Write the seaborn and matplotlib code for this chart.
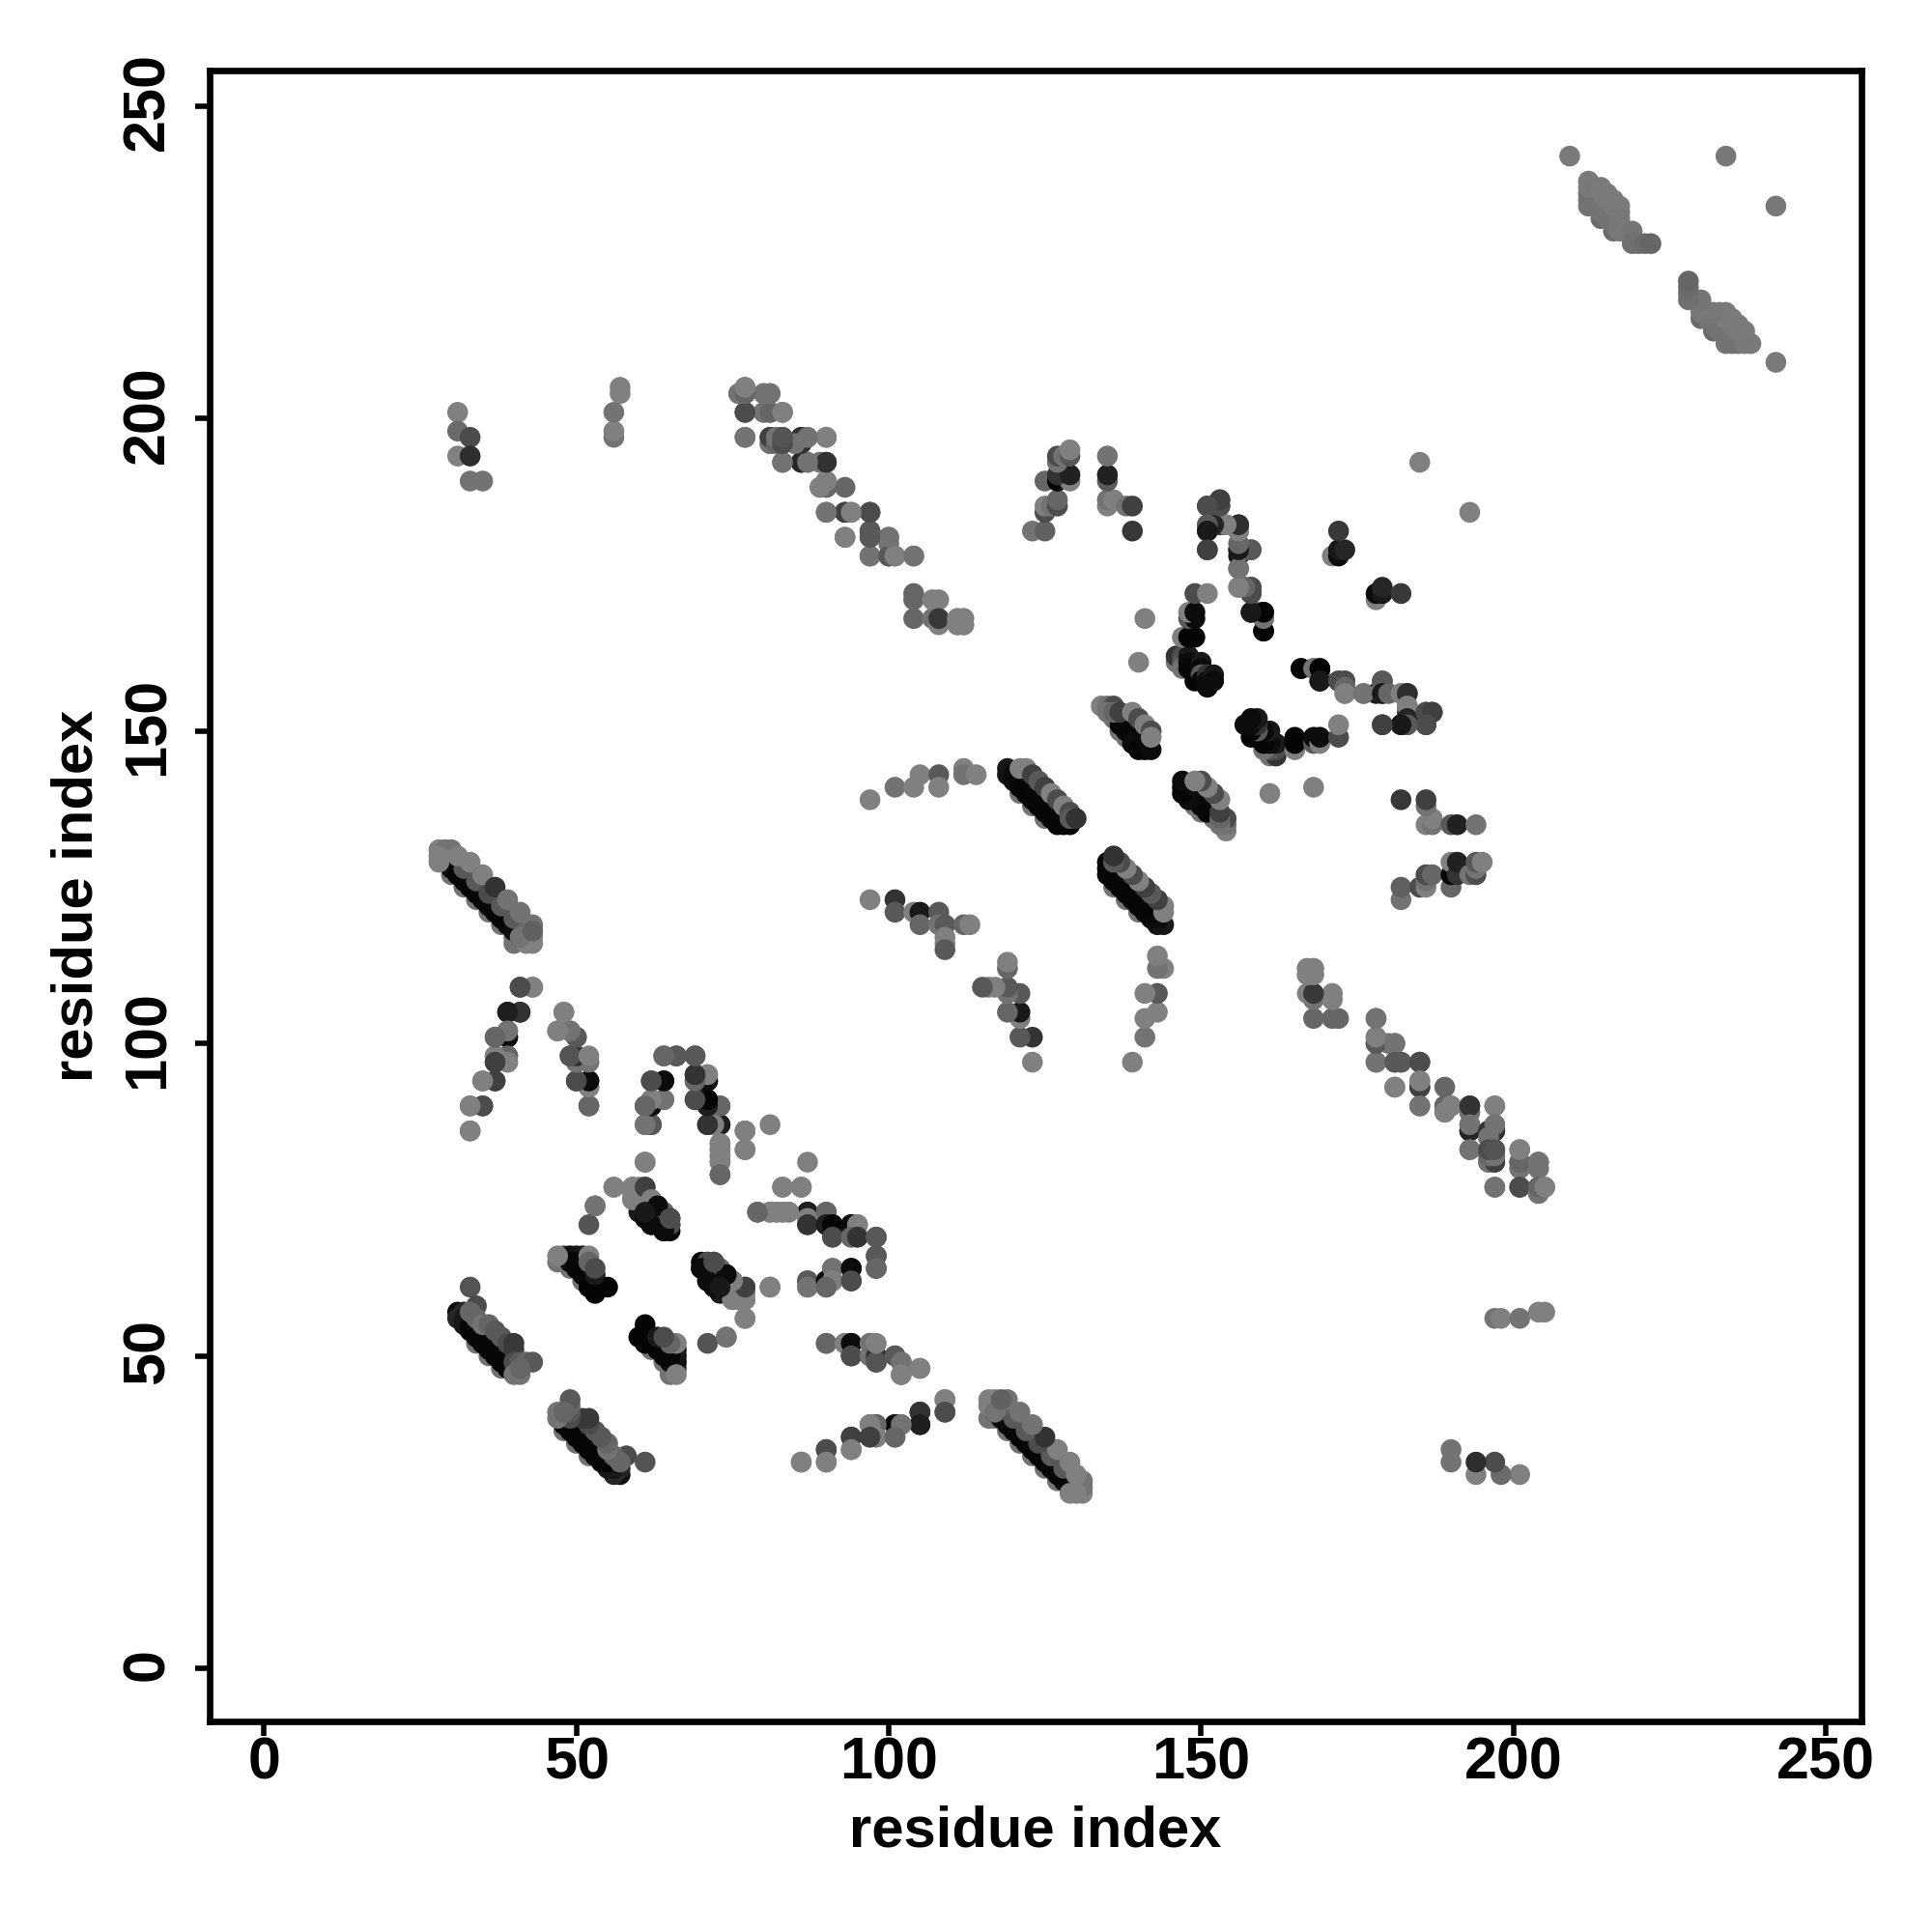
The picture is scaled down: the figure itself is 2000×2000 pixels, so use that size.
import matplotlib
matplotlib.use("Agg")
import matplotlib.pyplot as plt
from matplotlib.transforms import ScaledTranslation
import pandas as pd
import seaborn as sns

# contacts (residue i, residue j, grey level); the map is symmetric
band_a = [(30,127,.45),(32,125,.45),(34,123,.45),(36,121,.45),(38,119,.45),(40,117,.45),(40,116,.45),
 (29,129,.15),(30,128,.05),(31,127,.03),(32,126,.03),(33,125,.03),(34,124,.03),(35,123,.03),(36,122,.03),(37,121,.03),(38,120,.03),(39,119,.03),(40,118,.05),(41,117,.15),
 (32,128,.35),(34,126,.35),(36,124,.3),(38,122,.35),(40,120,.35),(42,118,.4),
 (28,131,.5),(29,131,.45),(30,131,.45),(28,130,.5),(28,129,.5),(31,130,.5),(33,129,.5),(35,127,.5),(37,125,.2),(39,123,.45),(41,121,.45),
 (43,119,.45),(42,116,.5),(43,116,.5),(43,117,.5),(41,117,.45),(43,118,.38)]
band_c = [(34,52,.45),(36,50,.45),(38,48,.45),
 (31,57,.06),(32,57,.15),(31,56,.15),(32,56,.1),(32,55,.1),(33,55,.03),(33,54,.03),(34,54,.03),(34,53,.03),(35,53,.03),(35,52,.03),(36,52,.03),(36,51,.03),(37,51,.03),(37,50,.03),(38,50,.03),(38,49,.03),(39,49,.03),(39,48,.03),(40,48,.03),
 (33,61,.33),(34,58,.3),(33,57,.4),(34,56,.4),(35,55,.45),(36,55,.4),(37,54,.35),(38,53,.35),(39,52,.3),(40,52,.22),(40,51,.22),(40,49,.3),(41,49,.35),(42,49,.4),(43,49,.35),(40,47,.45),(41,47,.45),(41,48,.4)]
band_e = [(47,65,.45),(49,64,.45),(51,62,.45),
 (48,66,.25),(49,66,.05),(50,66,.08),(51,66,.1),(49,65,.05),(50,65,.03),(51,65,.03),(50,64,.03),(51,64,.03),(52,64,.03),(51,63,.03),(52,63,.03),(52,62,.03),(53,62,.03),(52,61,.02),(53,61,.02),(53,60,.02),(54,61,.02),(55,61,.02),
 (47,66,.5),(52,66,.5),(52,65,.4),(53,63,.1),(53,64,.3)]
band_f = [(60,74,.1),(60,73,.1),(61,75,.1),(61,74,.05),(61,73,.03),(62,74,.03),(62,73,.03),(61,72,.05),(62,72,.03),(63,73,.03),(62,71,.02),(63,72,.03),(63,71,.05),(64,72,.03),(64,71,.03),(64,70,.02),(65,70,.03),
 (59,77,.5),(60,77,.5),(59,76,.5),(60,76,.45),(61,77,.3),(61,76,.3),(59,75,.5),(60,75,.45),(62,75,.5),(63,74,.02),(64,73,.4),(65,72,.25),(65,71,.25)]
arm_b = [(41,109,.33),(43,109,.5),(39,105,.13),(41,105,.22),(48,105,.5),(47,102,.5),(49,102,.45),(50,101,.3),(37,101,.35),(39,101,.05),(39,102,.45),
 (37,97,.25),(39,97,.5),(37,98,.5),(39,98,.4),(49,98,.35),(50,97,.35),(50,98,.2),(52,97,.48),(35,94,.5),(37,94,.25),(50,94,.3),(52,93,.5),(52,94,.05),(35,90,.3),(33,90,.5),(52,90,.4),(33,86,.5)]
arm_g = [(64,98,.35),(66,98,.35),(69,98,.35),(62,94,.3),(64,94,.05),(69,94,.38),(69,95,.2),(71,94,.05),(71,95,.5),(61,90,.4),(62,90,.08),(62,91,.5),(64,91,.45),(69,91,.3),(70,91,.15),(71,90,.08),(71,91,.02),(73,90,.4),
 (61,87,.5),(62,87,.32),(71,87,.22),(72,87,.5),(73,87,.12),(77,86,.5),(81,87,.5),(77,83,.5),(73,79,.4),(73,81,.5),(73,82,.52),(73,83,.54),(73,84,.55),(61,81,.48),(56,77,.5),(53,74,.5),(52,71,.33)]
left_top = [(31,201,.5),(31,198,.42),(33,197,.3),(31,194,.5),(33,194,.18),(33,190,.45),(35,190,.45),(56,197,.45),(56,198,.5),(56,201,.45),(57,204,.5),(57,205,.5)]
strand_k = [(76,204,.5),(77,204,.35),(77,205,.5),(80,204,.45),(81,204,.45),(77,201,.3),(80,201,.5),(81,201,.4),(83,201,.5),(77,197,.45),(81,196,.45),(81,197,.38),(82,197,.45),(83,196,.3),(83,197,.3),(85,196,.45),(86,196,.1),(86,197,.15),(87,197,.45),(90,197,.5),
 (83,193,.45),(86,193,.12),(87,193,.45),(89,193,.45),(90,193,.2),(90,189,.38),(89,189,.5),(90,190,.5),(93,189,.4),(90,185,.45),(93,185,.25),(94,185,.5),(97,185,.3),(93,181,.5),(97,181,.38),(97,182,.35),(100,181,.45),
 (97,178,.45),(100,178,.35),(101,178,.45),(100,180,.45),(104,178,.48),(104,172,.4),(104,171,.4),(104,168,.4),(107,168,.45),(107,171,.5),(108,171,.5),(108,167,.5),(108,168,.22),(111,167,.5),(111,168,.5),(112,167,.5),(112,168,.5)]
lower_m = [(52,90,.4),(52,93,.5),(52,94,.05),(50,94,.3),(52,97,.45),(50,97,.45),(50,98,.2),(49,98,.33),(52,98,.5),(50,101,.35),(49,102,.45),(47,102,.5),(48,105,.5),(43,109,.5),(41,109,.3),(41,105,.2),(39,105,.12),
 (39,101,.05),(39,102,.45),(39,98,.4),(39,97,.5),(37,98,.5),(37,97,.25),(37,101,.4),(37,94,.25),(35,94,.5),(35,90,.3),(33,90,.5),(33,86,.5)]
mid_n = [(73,87,.12),(72,87,.5),(71,87,.2),(73,90,.4),(71,90,.12),(71,91,.02),(69,91,.3),(71,94,.05),(71,95,.5),(69,94,.4),(69,95,.2),(69,98,.35),(66,98,.35),(64,98,.4),(61,81,.5),(62,87,.35),(61,87,.45),
 (62,90,.05),(64,91,.45),(62,91,.5),(61,90,.4),(64,94,.05),(62,94,.3),(73,81,.5),(73,82,.5),(73,83,.5),(73,84,.5),(73,79,.4),(77,83,.5),(77,86,.5),(56,77,.5),(59,77,.5),(59,75,.5)]
mid_o = [(61,77,.25),(62,75,.5),(63,74,.05),(62,71,.05),(61,73,.1),(65,71,.3),(64,70,.05),(65,72,.3),(53,74,.45)]
band_h = [(121,140,.45),(123,138,.45),(125,136,.45),
 (119,144,.1),(119,143,.08),(120,143,.05),(120,142,.05),(121,142,.03),(121,141,.03),(122,141,.02),(122,140,.02),(123,140,.03),(123,139,.03),(124,139,.03),(124,138,.03),(125,138,.03),(125,137,.03),(126,137,.03),(126,136,.03),(127,136,.03),(127,135,.03),(128,135,.03),(129,135,.03),(128,136,.03),
 (121,144,.5),(122,144,.5),(123,143,.25),(124,142,.35),(125,141,.25),(126,140,.5),(127,139,.3),(128,138,.5),(129,137,.3),(129,136,.35),(130,136,.2)]
band_j = [(136,152,.45),(137,150,.45),(138,149,.45),
 (137,151,.03),(138,151,.03),(138,150,.03),(139,150,.03),(139,149,.03),(140,149,.03),(140,148,.03),(141,148,.03),(139,148,.05),(140,147,.03),(141,147,.03),(142,147,.05),(141,149,.05),
 (134,154,.5),(135,154,.45),(136,154,.3),(135,153,.45),(136,153,.4),(137,153,.25),(139,153,.5),(140,152,.3),(141,151,.5),(142,150,.3),(142,149,.5)]
band_k = [(146,161,.45),(146,162,.2),(147,162,.3),(147,161,.35),(147,160,.45),(148,162,.1),(148,161,.05),(148,160,.03),(149,160,.03),(149,159,.03),(149,158,.02),(150,161,.1),(150,160,.05),(150,159,.35),(150,158,.03),(151,159,.2),(151,158,.05),(151,157,.05),(152,159,.1),(152,158,.05),
 (147,165,.5),(148,165,.02),(149,165,.02),(148,168,.35),(149,168,.05),(148,169,.5),(149,169,.05),(149,172,.3),(151,172,.5),(140,161,.5),(141,168,.5)]
band_p = [(123,182,.45),(125,182,.38),(125,185,.3),(125,186,.5),(126,186,.45),(127,186,.3),(127,187,.4),(125,190,.4),(127,190,.02),(129,190,.5),(127,191,.2),(129,191,.13),(127,193,.45),(127,194,.3),(128,194,.45),(129,194,.35),(129,195,.5),
 (135,186,.5),(135,187,.45),(136,187,.5),(135,190,.35),(135,191,.13),(135,194,.45),(138,186,.45),(139,186,.25),(139,182,.22)]
band_q = [(151,179,.25),(151,182,.15),(151,183,.4),(151,186,.3),(153,186,.25),(153,187,.3),(153,183,.2),(152,183,.15),(154,183,.5),(156,183,.2),(156,182,.45),(156,178,.1),(156,179,.3),(157,179,.45),(158,179,.35),(156,176,.5),(156,173,.5),(157,173,.45),(158,173,.3),(158,172,.25),
 (158,169,.1),(159,169,.4),(160,169,.02),(160,168,.4),(160,166,.02),(171,178,.5),(172,178,.05),(172,179,.1),(173,179,.15),(172,182,.22),(185,193,.5)]
band_x = [(112,167,.5),(112,168,.5),(111,167,.5),(111,168,.5)]
strand_r = [(97,123,.5),(101,123,.2),(101,121,.35),(104,121,.5),(105,121,.1),(108,121,.35),(105,119,.4),(108,119,.45),(109,119,.35),(112,119,.4),(113,119,.5),(109,117,.5),(109,116,.5),(109,115,.35),
 (97,139,.5),(101,141,.45),(104,141,.5),(105,143,.5),(108,143,.35),(108,141,.5),(112,144,.5),(112,143,.45),(114,143,.5)]
strand_s = [(209,242,.48),(234,242,.47),(212,235,.45),(212,234,.45),(214,232,.42),(216,230,.42),(212,236,.44),(213,234,.45),(214,233,.45),(215,232,.45),(216,231,.45),
 (212,238,.48),(212,237,.48),(213,237,.47),(214,237,.48),(214,236,.48),(215,236,.48),(215,235,.48),(216,235,.48),(216,234,.48),(217,234,.48),(217,233,.48),(217,232,.47),(217,231,.47),(217,230,.47),(219,230,.46),(219,228,.44),(220,228,.44),(221,228,.42),(222,228,.4)]
strand_t = [(97,178,.45),(100,178,.35),(101,178,.5),(104,178,.45),(100,181,.45),(97,181,.35),(97,182,.35),(97,185,.3),(93,181,.5),(93,185,.25),(94,185,.5),(90,185,.45),(90,189,.4),(89,189,.5),(90,190,.5),(89,193,.45),(90,193,.2),(86,193,.15),(87,193,.45),(83,193,.45),
 (90,197,.5),(86,196,.2),(86,197,.2),(87,197,.45),(85,196,.45),(81,196,.45),(81,197,.25),(82,196,.4),(82,197,.45),(83,196,.3),(83,197,.33),(80,201,.45),(81,201,.4),(83,201,.5),(80,204,.45),(81,204,.45),(77,197,.45),(77,201,.3),(76,204,.45),(77,204,.4),(77,205,.5)]
strand_u = [(160,166,.02),(160,168,.45),(160,169,.02),(158,169,.1),(158,172,.3),(158,173,.3),(157,173,.4),(156,173,.5),(156,176,.45),(158,179,.35),(156,179,.1),(156,180,.4),(156,182,.5),(156,183,.18),(154,183,.5),(152,183,.15),(153,186,.3),(153,187,.25),(151,186,.3),(151,183,.35),(151,182,.1),(151,179,.25)]
tick_values = [0, 50, 100, 150, 200, 250]
axis_label = "residue index"

groups = [band_a, band_c, band_e, band_f, arm_b, arm_g, left_top, strand_k, lower_m,
          mid_n, mid_o, band_h, band_j, band_k, band_p, band_q, band_x, strand_r, strand_s, strand_t, strand_u]
rows = [c for g in groups for c in g]
df = pd.DataFrame(rows, columns=["i", "j", "shade"])
both = pd.concat([df.rename(columns={"i": "x", "j": "y"}),
                  df.rename(columns={"j": "x", "i": "y"})]).sort_index(kind="stable")

sns.set_theme(style="ticks")
plt.rcParams["font.family"] = ["Liberation Sans", "DejaVu Sans"]
plt.rcParams["font.weight"] = "bold"

fig = plt.figure(figsize=(10, 10), dpi=200, facecolor="white")
ax = fig.add_axes([0.1085, 0.109, 0.855, 0.8545])
sns.scatterplot(data=both, x="x", y="y", hue="shade", hue_norm=(0, 1), palette="gray",
                s=60, linewidth=0, legend=False, ax=ax)
ax.set_xlim(-8.7, 255.7)
ax.set_ylim(-8.5, 255.7)
ax.set_xticks(tick_values)
ax.set_yticks(tick_values)
ax.tick_params(length=5.5, width=2.0, color="black", labelsize=22, labelcolor="black")
ax.tick_params(axis="x", pad=0)
ax.tick_params(axis="y", pad=7)
lift = ScaledTranslation(0, 0.022, fig.dpi_scale_trans)
for lab in ax.get_yticklabels():
    lab.set(rotation=90, rotation_mode="anchor", ha="center", va="bottom")
    lab.set_transform(lab.get_transform() + lift)
for s in ax.spines.values():
    s.set_visible(True)
    s.set_linewidth(2.4)
    s.set_color("black")
ax.set_xlabel(axis_label, fontsize=21.5, fontweight="bold", color="black", labelpad=5)
ax.set_ylabel(axis_label, fontsize=21.5, fontweight="bold", color="black", labelpad=6.5)
fig.savefig("out.png", dpi=200, facecolor="white")
